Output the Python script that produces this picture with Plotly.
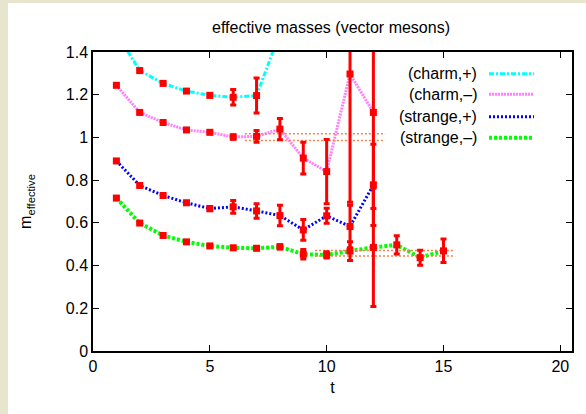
import plotly.graph_objects as go

# ---------------- data ----------------
t_charm_p = [1, 2, 3, 4, 5, 6, 7, 8]
m_charm_p = [1.49, 1.313, 1.253, 1.217, 1.197, 1.188, 1.196, 1.49]
e_charm_p = [0.006, 0.006, 0.006, 0.006, 0.008, 0.036, 0.082, 0.08]

t_charm_m = [1, 2, 3, 4, 5, 6, 7, 8, 9, 10, 11, 12]
m_charm_m = [1.244, 1.117, 1.070, 1.035, 1.024, 1.002, 1.005, 1.039, 0.903, 0.84, 1.297, 1.117]
e_charm_m = [0.005, 0.005, 0.005, 0.006, 0.007, 0.01, 0.027, 0.05, 0.074, 0.15, 0.6, 0.45]

t_strange_p = [1, 2, 3, 4, 5, 6, 7, 8, 9, 10, 11, 12]
m_strange_p = [0.890, 0.775, 0.728, 0.694, 0.667, 0.675, 0.656, 0.634, 0.567, 0.633, 0.583, 0.778]
e_strange_p = [0.005, 0.005, 0.006, 0.007, 0.01, 0.03, 0.034, 0.048, 0.049, 0.035, 0.1, 0.19]

t_strange_m = [1, 2, 3, 4, 5, 6, 7, 8, 9, 10, 11, 12, 13, 14, 15]
m_strange_m = [0.716, 0.599, 0.541, 0.511, 0.492, 0.483, 0.481, 0.488, 0.453, 0.450,
               0.468, 0.485, 0.497, 0.437, 0.469]
e_strange_m = [0.004, 0.004, 0.005, 0.005, 0.006, 0.007, 0.007, 0.01, 0.022, 0.015,
               0.044, 0.277, 0.043, 0.035, 0.055]

# plateau fits: (t range, value, error)
fit_charm_m_t = [6.5, 12.5]
fit_charm_m_val = 1.0015
fit_charm_m_err = 0.0155
fit_strange_m_t = [9.5, 15.5]
fit_strange_m_val = 0.4575
fit_strange_m_err = 0.0125

labels = ["(charm,+)", "(charm,\u2013)", "(strange,+)", "(strange,\u2013)"]
x_ticks = [0, 5, 10, 15, 20]
y_ticks = [0, 0.2, 0.4, 0.6, 0.8, 1.0, 1.2, 1.4]

# ---------------- styles ----------------
series = [
    (t_charm_p, m_charm_p, e_charm_p, "#00ffff", "5px,2px,2px,2px", 3),
    (t_charm_m, m_charm_m, e_charm_m, "#ff80ff", "2px,1px", 3),
    (t_strange_p, m_strange_p, e_strange_p, "#0000ff", "2px,2px", 3),
    (t_strange_m, m_strange_m, e_strange_m, "#00ff00", "3px,2px", 4),
]
FONT = "Liberation Sans, Arial, Helvetica, sans-serif"
fit_color = "#f5844c"

fig = go.Figure()

# coloured lines
for tt, mm, ee, col, dash, w in series:
    fig.add_trace(go.Scatter(x=tt, y=mm, mode="lines",
                             line=dict(color=col, width=w, dash=dash),
                             showlegend=False, hoverinfo="skip"))

# plateau fit bands
for ft, fv, fe in [(fit_charm_m_t, fit_charm_m_val, fit_charm_m_err),
                   (fit_strange_m_t, fit_strange_m_val, fit_strange_m_err)]:
    for v in (fv + fe, fv - fe):
        fig.add_trace(go.Scatter(x=ft, y=[v, v], mode="lines",
                                 line=dict(color=fit_color, width=1.5, dash="2px,2px"),
                                 showlegend=False, hoverinfo="skip"))

# red error bars with points
for tt, mm, ee, col, dash, w in series:
    fig.add_trace(go.Scatter(x=tt, y=mm, mode="markers",
                             marker=dict(symbol="square", size=7, color="#ff0000"),
                             error_y=dict(type="data", array=ee, visible=True,
                                          color="#ff0000", thickness=3, width=3),
                             showlegend=False))

# ---------------- layout ----------------
W, H = 586, 414
L, R, T, B = 93, 14, 52, 63
pw, ph = W - L - R, H - T - B


def px2paper_x(px):
    return (px - L) / pw


def px2paper_y(py):
    return (H - B - py) / ph


shapes = [
    # white panel over beige page
    dict(type="rect", xref="paper", yref="paper",
         x0=px2paper_x(8), x1=px2paper_x(W + 20),
         y0=px2paper_y(H + 20), y1=px2paper_y(3),
         fillcolor="white", line=dict(width=0), layer="below"),
]

# manual gnuplot-style legend (text right, sample line after)
leg_y = [73.7, 94.3, 116.7, 137.7]
annotations = []
for i, (lab, s) in enumerate(zip(labels, series)):
    y = px2paper_y(leg_y[i])
    annotations.append(dict(text=lab, xref="paper", yref="paper",
                            x=px2paper_x(479), y=y, xanchor="right", yanchor="middle",
                            showarrow=False, font=dict(family=FONT, size=16, color="black")))
    shapes.append(dict(type="line", xref="paper", yref="paper",
                       x0=px2paper_x(489), x1=px2paper_x(534), y0=y, y1=y,
                       line=dict(color=s[3], width=s[5], dash=s[4])))

fig.update_layout(
    width=W, height=H,
    margin=dict(l=L, r=R, t=T, b=B),
    paper_bgcolor="#e7e5cd",
    plot_bgcolor="white",
    font=dict(family=FONT, size=16, color="black"),
    title=dict(text="effective masses (vector mesons)", x=331 / W,
               xanchor="center", y=1 - 27.5 / H, yanchor="middle",
               font=dict(family=FONT, size=16, color="black")),
    xaxis=dict(range=[0, 20.5], tickvals=x_ticks, ticktext=[str(v) for v in x_ticks],
               ticks="inside", ticklen=6, tickwidth=1, tickcolor="black",
               showline=True, linecolor="black", linewidth=1.5, mirror="ticks",
               showgrid=False, zeroline=False,
               title=dict(text="t", standoff=8, font=dict(size=16))),
    yaxis=dict(range=[0, 1.4], tickvals=y_ticks,
               ticktext=["0", "0.2", "0.4", "0.6", "0.8", "1", "1.2", "1.4"],
               ticks="inside", ticklen=6, tickwidth=1, tickcolor="black",
               showline=True, linecolor="black", linewidth=1.5, mirror="ticks",
               showgrid=False, zeroline=False,
               title=dict(text="m<sub>effective</sub>", standoff=30, font=dict(size=16))),
    shapes=shapes,
    annotations=annotations,
)

fig.write_html("out.html")
